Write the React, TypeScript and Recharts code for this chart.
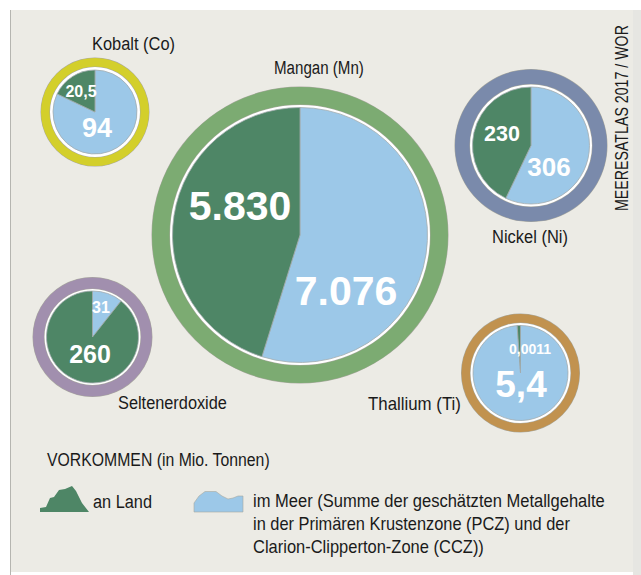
import { Cell, Pie, PieChart } from "recharts"

// Vorkommen in Mio. Tonnen
const minerals = ["Kobalt (Co)", "Mangan (Mn)", "Nickel (Ni)", "Seltenerdoxide", "Thallium (Ti)"]
const seaValues = [94, 7076, 306, 31, 5.4]
const landValues = [20.5, 5830, 230, 260, 0.0011]
const seaLabels = ["94", "7.076", "306", "31", "5,4"]
const landLabels = ["20,5", "5.830", "230", "260", "0,0011"]
const legendLines = [
	"im Meer (Summe der geschätzten Metallgehalte",
	"in der Primären Krustenzone (PCZ) und der",
	"Clarion-Clipperton-Zone (CCZ))",
]

const LAND = "#4e8666"
const SEA = "#9cc8e8"
const BG = "#ecebe5"
const EDGE = "#a9a99f"
const SANS = "'Liberation Sans', Arial, sans-serif"
const TEXT_SIZE = 19

// cx, cy, pie radius, ring inner and outer radius, ring colour, smallest slice angle
const circles = [
	{ cx: 95, cy: 112, r: 42, r1: 45, r2: 54, color: "#d3cf2b", minAngle: 0 },
	{ cx: 300, cy: 235, r: 127.5, r1: 130, r2: 148, color: "#7cab72", minAngle: 0 },
	{ cx: 531, cy: 145.5, r: 58.5, r1: 61, r2: 76, color: "#7a8aab", minAngle: 0 },
	{ cx: 92.5, cy: 337, r: 46, r1: 48, r2: 59.5, color: "#a18fae", minAngle: 0 },
	{ cx: 520.5, cy: 373, r: 47.5, r1: 50, r2: 59, color: "#c1924f", minAngle: 4 },
]

// x, baseline and font size of the numbers in each pie
const seaText = [
	{ x: 97, y: 137, size: 27 },
	{ x: 346, y: 305, size: 41 },
	{ x: 549, y: 176, size: 26 },
	{ x: 101, y: 313, size: 16 },
	{ x: 521, y: 397, size: 37 },
]
const landText = [
	{ x: 81, y: 97, size: 16 },
	{ x: 240, y: 220, size: 41 },
	{ x: 502, y: 141, size: 21.5 },
	{ x: 90, y: 363, size: 25 },
	{ x: 530, y: 354, size: 14 },
]
// the print font is condensed, so every black text is squeezed to its measured width
const nameText = [
	{ x: 92, y: 50, w: 83 },
	{ x: 274, y: 74, w: 90 },
	{ x: 492, y: 243, w: 76 },
	{ x: 118, y: 409, w: 109 },
	{ x: 368, y: 410, w: 93 },
]
const legendWidths = [352, 317, 231]

const LAND_GLYPH = "M40 512V508L46 507L50 498L54 497L59 490L65 489L72 486L76 491L82 503L89 512Z"
const SEA_GLYPH = "M194 512V503L199 496L205 491.5H216L222 496L228 499L233 498L238 496H243V512Z"

const ctx = document.createElement("canvas").getContext("2d")!
ctx.font = `${TEXT_SIZE}px ${SANS}`

const disc = (cx: number, cy: number, r: number, fill: string, key: string) => (
	<Pie
		key={key}
		data={[{ value: 1 }]}
		dataKey="value"
		cx={cx}
		cy={cy}
		innerRadius={0}
		outerRadius={r}
		startAngle={90}
		endAngle={-270}
		fill={fill}
		stroke="none"
		isAnimationActive={false}
	/>
)

const Condensed = ({ x, y, w, children }: { x: number; y: number; w: number; children: string }) => (
	<text transform={`translate(${x} ${y}) scale(${w / ctx.measureText(children).width} 1)`}>
		{children}
	</text>
)

const App = () => (
	<div style={{ position: "absolute", left: 0, top: 0, width: 641, height: 575 }}>
		<PieChart width={641} height={575} margin={{ top: 0, right: 0, bottom: 0, left: 0 }}>
			<rect x={633} y={10} width={8} height={565} fill="#e6e6e2" />
			<rect x={10} y={10} width={623} height={562} fill={BG} />
			<rect x={10} y={10} width={1} height={565} fill="#b5b5b0" />
			{circles.flatMap((c, i) => [
				disc(c.cx, c.cy, c.r2 + 0.5, EDGE, `edge-${i}`),
				disc(c.cx, c.cy, c.r2, c.color, `ring-${i}`),
				disc(c.cx, c.cy, c.r1 + 0.5, EDGE, `inner-${i}`),
				disc(c.cx, c.cy, c.r1, "#ffffff", `gap-${i}`),
				<Pie
					key={`pie-${i}`}
					data={[
						{ name: "im Meer", value: seaValues[i] },
						{ name: "an Land", value: landValues[i] },
					]}
					dataKey="value"
					cx={c.cx}
					cy={c.cy}
					innerRadius={0}
					outerRadius={c.r}
					startAngle={90}
					endAngle={-270}
					minAngle={c.minAngle}
					stroke="#a3acaf"
					strokeWidth={0.8}
					isAnimationActive={false}
				>
					<Cell fill={SEA} />
					<Cell fill={LAND} />
				</Pie>,
			])}
		</PieChart>
		{/* the pies paint above other chart children, so all text sits in a layer on top */}
		<svg
			width={641}
			height={575}
			style={{ position: "absolute", left: 0, top: 0, pointerEvents: "none" }}
		>
			<g fontFamily={SANS} fontWeight="bold" fill="#ffffff" textAnchor="middle">
				{seaLabels.map((label, i) => (
					<text key={label} x={seaText[i].x} y={seaText[i].y} fontSize={seaText[i].size}>
						{label}
					</text>
				))}
				{landLabels.map((label, i) => (
					<text key={label} x={landText[i].x} y={landText[i].y} fontSize={landText[i].size}>
						{label}
					</text>
				))}
			</g>
			<g fontFamily={SANS} fontSize={TEXT_SIZE} fill="#1a1a1a">
				{minerals.map((name, i) => (
					<Condensed key={name} x={nameText[i].x} y={nameText[i].y} w={nameText[i].w}>
						{name}
					</Condensed>
				))}
				<Condensed x={47} y={466} w={223}>VORKOMMEN (in Mio. Tonnen)</Condensed>
				<Condensed x={93} y={508} w={59}>an Land</Condensed>
				{legendLines.map((line, i) => (
					<Condensed key={line} x={253} y={507 + i * 23} w={legendWidths[i]}>
						{line}
					</Condensed>
				))}
				<g transform="translate(628 211) rotate(-90)">
					<Condensed x={0} y={0} w={186}>MEERESATLAS 2017 / WOR</Condensed>
				</g>
			</g>
			<path d={LAND_GLYPH} fill={LAND} />
			<path d={SEA_GLYPH} fill={SEA} stroke={EDGE} strokeWidth={0.6} />
		</svg>
	</div>
)

export default App
